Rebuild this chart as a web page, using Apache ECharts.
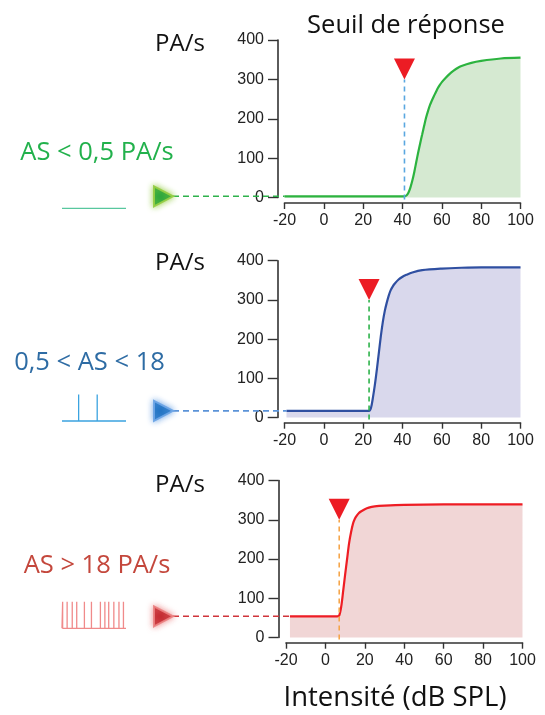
<!DOCTYPE html>
<html><head><meta charset="utf-8">
<script src="https://cdn.jsdelivr.net/npm/echarts@6/dist/echarts.min.js"></script>
<style>html,body{margin:0;padding:0;background:#fff}#c{width:545px;height:715px}</style>
</head><body><div id="c"></div>
<script>
// ---- data ----
const xTicks = [-20, 0, 20, 40, 60, 80, 100];
const yTicks = [0, 100, 200, 300, 400];
const title = 'Seuil de réponse';
const yName = 'PA/s';
const xName = 'Intensité (dB SPL)';
const groupLabels = ['AS < 0,5 PA/s', '0,5 < AS < 18', 'AS > 18 PA/s'];

const intensity1 = [-20, 0, 20, 40, 41, 42, 43, 44, 45, 46, 47, 48, 49, 50, 51, 52, 53, 54, 55, 56, 57, 58, 59, 60, 62, 64, 66, 68, 70, 75, 80, 90, 100];
const rate1 = [3, 3, 3, 3, 3, 5, 12, 25, 43, 65, 90, 115, 138, 160, 182, 203, 220, 235, 247, 258, 268, 278, 286, 293, 304, 314, 322, 329, 334, 342, 347, 353, 355];
const threshold1 = 41;

const intensity2 = [-19, 0, 20, 23, 24, 25, 26, 27, 28, 29, 30, 31, 32, 33, 34, 35, 36, 38, 40, 42, 45, 50, 60, 70, 80, 100];
const rate2 = [17, 17, 17, 17, 25, 52, 85, 124, 166, 208, 244, 272, 293, 311, 325, 334, 341, 352, 359, 364, 370, 376, 380, 382, 383, 383];
const threshold2 = 23;

const intensity3 = [-18, 0, 6, 7, 8, 9, 10, 11, 12, 13, 14, 15, 16, 17, 18, 20, 22, 25, 30, 40, 60, 80, 100];
const rate3 = [54, 54, 54, 56, 78, 118, 160, 200, 240, 268, 290, 303, 311, 317, 321, 327, 331, 334, 336, 338, 339, 339, 339];
const threshold3 = 7;

const markerLevel = 300;
const markerFoot = -5;

// spike times (arbitrary time window 0..100)
const spikes1 = [];
const spikes2 = [26, 55];
const spikes3 = [1, 8, 16, 23, 35, 46, 60, 67, 73, 81, 89, 96];

// ---- layout & styles ----
const panels = [
  { x: intensity1, y: rate1, thr: threshold1, spikes: spikes1, top: 40, zero: 197.5, left: 284.5, right: 520.5, axisY: 203, yAxisX: 278,
    line: '#2cb33f', fill: '#d5e9d1', thrColor: '#5aa7e0', conn: '#2eb24b', arrow: '#22a33c', glow: 'rgba(150,205,70,0.95)',
    label: '#22b14c', labelPos: [97, 153], spikeColor: '#58c79e', spikeTop: 181, spikeBase: 208.3, pa: 44 },
  { x: intensity2, y: rate2, thr: threshold2, spikes: spikes2, top: 260.7, zero: 417.5, left: 284.5, right: 520.5, axisY: 422.7, yAxisX: 277.7,
    line: '#2f4fa1', fill: '#d9d8ec', thrColor: '#2db24a', conn: '#5b93d8', arrow: '#1a6fc0', glow: 'rgba(110,165,230,0.95)',
    label: '#2e6ca4', labelPos: [89.5, 363], spikeColor: '#3ba3e0', spikeTop: 394.5, spikeBase: 421, pa: 263 },
  { x: intensity3, y: rate3, thr: threshold3, spikes: spikes3, top: 480.5, zero: 637.5, left: 286, right: 522.5, axisY: 642.7, yAxisX: 278.5,
    line: '#ee1d24', fill: '#f1d6d6', thrColor: '#f5a54a', conn: '#d0343a', arrow: '#c0232a', glow: 'rgba(235,130,130,0.9)',
    label: '#c4473c', labelPos: [97, 566], spikeColor: '#f08a8a', spikeTop: 601.7, spikeBase: 628.3, pa: 485 }
];

const tickFont = 'Liberation Sans, Arial, sans-serif';
const textFont = 'Open Sans, Noto Sans, sans-serif';

const chart = echarts.init(document.getElementById('c'), null, { renderer: 'canvas' });

const grid = [], xAxis = [], yAxis = [], series = [];
panels.forEach((p, i) => {
  grid.push({ left: p.left, top: p.top, width: p.right - p.left, height: p.zero - p.top, containLabel: false });
  xAxis.push({
    type: 'value', gridIndex: i, min: xTicks[0], max: xTicks[xTicks.length - 1], interval: xTicks[1] - xTicks[0],
    position: 'bottom', offset: p.axisY - p.zero,
    axisLine: { show: true, onZero: false, lineStyle: { color: '#333', width: 1.6 } },
    axisTick: { show: true, length: 6, lineStyle: { color: '#333', width: 1.4 } },
    axisLabel: { fontSize: 16, fontFamily: tickFont, color: '#222', margin: 10 },
    splitLine: { show: false }
  });
  yAxis.push({
    type: 'value', gridIndex: i, min: yTicks[0], max: yTicks[yTicks.length - 1], interval: yTicks[1] - yTicks[0],
    position: 'left', offset: p.left - p.yAxisX,
    axisLine: { show: true, onZero: false, lineStyle: { color: '#333', width: 1.6 } },
    axisTick: { show: true, length: 10, lineStyle: { color: '#333', width: 1.4 } },
    axisLabel: { fontSize: 16, fontFamily: tickFont, color: '#222', margin: 14 },
    splitLine: { show: false }
  });
  series.push({
    type: 'line', xAxisIndex: i, yAxisIndex: i, data: p.x.map((v, k) => [v, p.y[k]]),
    smooth: 0.3, symbol: 'none', clip: false,
    lineStyle: { color: p.line, width: 2.2 }, areaStyle: { color: p.fill, opacity: 1, origin: 'start' }, z: 2
  });
  series.push({
    type: 'line', xAxisIndex: i, yAxisIndex: i, data: [[p.thr, markerFoot], [p.thr, markerLevel]],
    symbol: 'none', clip: false, lineStyle: { color: p.thrColor, width: 1.6, type: [5, 4] }, z: 3
  });
  series.push({
    type: 'scatter', xAxisIndex: i, yAxisIndex: i, data: [[p.thr, markerLevel]],
    symbol: 'path://M0,0 L20,0 L10,20 Z', symbolSize: [21, 21], symbolOffset: [0, -10.5],
    itemStyle: { color: '#ec1c24', opacity: 1 }, clip: false, z: 4, silent: true
  });
});

// spike train icons, each in its own hidden small grid
panels.forEach((p, i) => {
  const gi = panels.length + i;
  grid.push({ left: 62, width: 64, top: p.spikeTop, height: p.spikeBase - p.spikeTop });
  xAxis.push({ type: 'value', gridIndex: gi, min: 0, max: 100, show: false });
  yAxis.push({ type: 'value', gridIndex: gi, min: 0, max: 1, show: false });
  const pts = [[0, 0]];
  p.spikes.forEach(t => { pts.push([t, 0], [t, 1], [t, 0]); });
  pts.push([100, 0]);
  series.push({
    type: 'line', xAxisIndex: gi, yAxisIndex: gi, data: pts, symbol: 'none', clip: false,
    lineStyle: { color: p.spikeColor, width: 1.3 }, z: 2
  });
});

chart.setOption({ animation: false, grid, xAxis, yAxis, series });

// decorative text, arrows and connectors
const graphic = [];
graphic.push({ type: 'text', style: { text: title, x: 406, y: 26, align: 'center', verticalAlign: 'middle', font: '25.5px ' + textFont, fill: '#111' } });
graphic.push({ type: 'text', style: { text: xName, x: 395, y: 698, align: 'center', verticalAlign: 'middle', font: '27.5px ' + textFont, fill: '#111' } });
panels.forEach((p, i) => {
  graphic.push({ type: 'text', style: { text: yName, x: 180, y: p.pa, align: 'center', verticalAlign: 'middle', font: '24px ' + textFont, fill: '#111' } });
  graphic.push({ type: 'text', style: { text: groupLabels[i], x: p.labelPos[0], y: p.labelPos[1], align: 'center', verticalAlign: 'middle', font: '25.5px ' + textFont, fill: p.label } });
  const start = chart.convertToPixel({ gridIndex: i }, [p.x[0], p.y[0]]);
  const cy = start[1];
  graphic.push({ type: 'line', shape: { x1: 173, y1: cy, x2: start[0], y2: cy }, style: { stroke: p.conn, lineWidth: 1.6, lineDash: [6, 4] }, z: 5 });
  graphic.push({ type: 'polygon', shape: { points: [[154, cy - 10], [173, cy], [154, cy + 10]] },
    style: { fill: p.arrow, shadowBlur: 6, shadowColor: p.glow, stroke: p.glow, lineWidth: 2 }, z: 6 });
});
chart.setOption({ graphic });
</script>
</body></html>
